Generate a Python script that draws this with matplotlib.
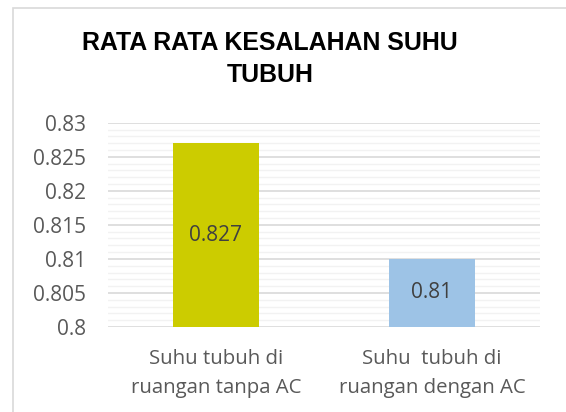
import matplotlib
matplotlib.use("Agg")
import matplotlib.pyplot as plt
from matplotlib.ticker import MultipleLocator
from matplotlib.patches import Rectangle

categories = ["Suhu tubuh di\nruangan tanpa AC", "Suhu  tubuh di\nruangan dengan AC"]
values = [0.827, 0.81]
value_labels = ["0.827", "0.81"]
colors = ["#CCCC00", "#9DC3E6"]
title = "RATA RATA KESALAHAN SUHU\nTUBUH"

W, H = 566, 412
fig = plt.figure(figsize=(W / 100, H / 100), dpi=100)
fig.patch.set_facecolor("white")

# outer chart border
fig.add_artist(Rectangle((13 / W, -0.01), 1.0, 1 - 8 / H + 0.01, transform=fig.transFigure,
                         fill=False, edgecolor="#D9D9D9", linewidth=1.2))

left, right = 108 / W, 540 / W
bottom, top = 1 - 327 / H, 1 - 122.7 / H
ax = fig.add_axes([left, bottom, right - left, top - bottom])

x = [0, 1]
ax.bar(x, [v - 0.8 for v in values], bottom=0.8, width=0.4, color=colors, zorder=3)
for xi, v, lab in zip(x, values, value_labels):
    ax.text(xi, (0.8 + v) / 2, lab, ha="center", va="center", fontsize=15,
            color="#404040", family="Open Sans", zorder=4)

ax.set_xlim(-0.5, 1.5)
ax.set_ylim(0.8, 0.83)
ax.yaxis.set_major_locator(MultipleLocator(0.005))
ax.yaxis.set_minor_locator(MultipleLocator(0.001))
ax.set_yticks([0.8, 0.805, 0.81, 0.815, 0.82, 0.825, 0.83])
ax.set_yticklabels(["0.8", "0.805", "0.81", "0.815", "0.82", "0.825", "0.83"])
ax.grid(axis="y", which="major", color="#D9D9D9", linewidth=1.2, zorder=0)
ax.grid(axis="y", which="minor", color="#F2F2F2", linewidth=1.0, zorder=0)
ax.set_xticks(x)
ax.set_xticklabels(categories, linespacing=1.6)
for s in ax.spines.values():
    s.set_visible(False)
ax.tick_params(axis="both", which="both", length=0)
ax.tick_params(axis="y", pad=16, labelsize=15, labelcolor="#595959")
ax.tick_params(axis="x", pad=16, labelsize=14.7, labelcolor="#595959")
for t in ax.get_xticklabels() + ax.get_yticklabels():
    t.set_family("Open Sans")

fig.text(270 / W, 1 - 59 / H, title, ha="center", va="center", fontsize=17.9,
         fontweight="bold", family="Liberation Sans", color="black", linespacing=1.4)

fig.savefig("out.png", dpi=100)
